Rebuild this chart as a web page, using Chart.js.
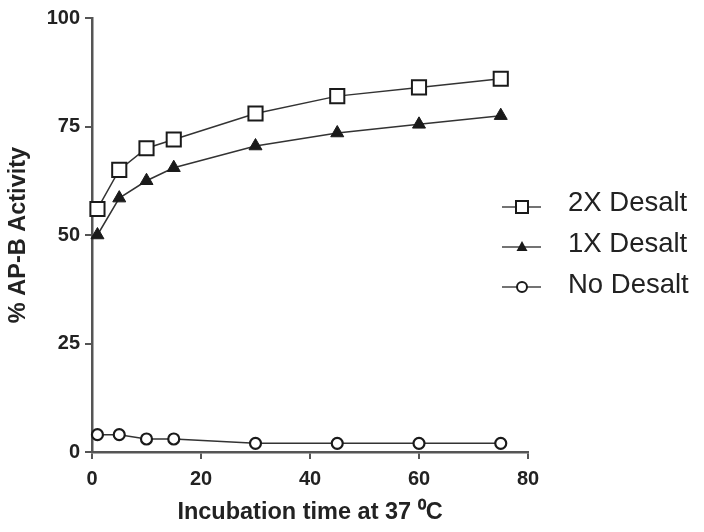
<!DOCTYPE html>
<html>
<head>
<meta charset="utf-8">
<script src="https://cdn.jsdelivr.net/npm/chart.js@4.4.1/dist/chart.umd.min.js"></script>
<style>
  html, body { margin: 0; padding: 0; background: #fff; }
  #wrap { width: 704px; height: 532px; }
</style>
</head>
<body>
<div id="wrap"><canvas id="apbChart" width="704" height="532"></canvas></div>
<script>
// incubation times (min) and % AP-B activity
var times = [1, 5, 10, 15, 30, 45, 60, 75];
var desalt2x = [56, 65, 70, 72, 78, 82, 84, 86];
var desalt1x = [50, 58.5, 62.5, 65.5, 70.5, 73.5, 75.5, 77.5];
var noDesalt = [4, 4, 3, 3, 2, 2, 2, 2];
var seriesNames = ['2X Desalt', '1X Desalt', 'No Desalt'];

function toPoints(ys) {
    return times.map(function (t, i) { return { x: t, y: ys[i] }; });
}

var ink = '#1a1a1a';
var axisColor = '#555';

// legend drawn to the right, overlapping the plot's right edge like the original
var sideLegend = {
    id: 'sideLegend',
    afterDraw: function (chart) {
        var c = chart.ctx;
        var rowsY = [207, 247, 287];
        chart.data.datasets.forEach(function (ds, i) {
            var y = rowsY[i];
            c.save();
            c.strokeStyle = '#444';
            c.lineWidth = 1.5;
            c.beginPath();
            c.moveTo(502, y);
            c.lineTo(541, y);
            c.stroke();
            c.lineWidth = 2;
            c.strokeStyle = ink;
            c.beginPath();
            if (ds.pointStyle === 'rect') {
                c.fillStyle = '#fff';
                c.rect(516, y - 6, 12, 12);
                c.fill();
                c.stroke();
            } else if (ds.pointStyle === 'triangle') {
                c.fillStyle = ink;
                c.moveTo(522, y - 6);
                c.lineTo(527.5, y + 4);
                c.lineTo(516.5, y + 4);
                c.closePath();
                c.fill();
            } else {
                c.fillStyle = '#fff';
                c.arc(522, y, 5, 0, Math.PI * 2);
                c.fill();
                c.stroke();
            }
            c.fillStyle = '#222';
            c.font = '27.5px "Liberation Sans", Arial, sans-serif';
            c.textBaseline = 'middle';
            c.textAlign = 'left';
            c.fillText(ds.label, 568, y - 4 + i * 1);
            c.restore();
        });
    }
};

const ctx = document.getElementById('apbChart').getContext('2d');
const apbChart = new Chart(ctx, {
    type: 'line',
    data: {
        datasets: [{
            label: seriesNames[0],
            data: toPoints(desalt2x),
            pointStyle: 'rect',
            pointRadius: 10,
            pointBorderWidth: 2,
            pointBackgroundColor: '#fff',
            pointBorderColor: ink,
            borderColor: '#333',
            borderWidth: 1.5
        }, {
            label: seriesNames[1],
            data: toPoints(desalt1x),
            pointStyle: 'triangle',
            pointRadius: 7.5,
            pointBorderWidth: 1,
            pointBackgroundColor: ink,
            pointBorderColor: ink,
            borderColor: '#333',
            borderWidth: 1.5
        }, {
            label: seriesNames[2],
            data: toPoints(noDesalt),
            pointStyle: 'circle',
            pointRadius: 5.5,
            pointBorderWidth: 2.2,
            pointBackgroundColor: '#fff',
            pointBorderColor: ink,
            borderColor: '#333',
            borderWidth: 1.5
        }]
    },
    options: {
        responsive: false,
        animation: false,
        devicePixelRatio: 1,
        clip: false,
        layout: {
            padding: { left: 0, right: 176, top: 18, bottom: 0 }
        },
        plugins: {
            legend: { display: false },
            tooltip: { enabled: false }
        },
        elements: { line: { tension: 0 } },
        scales: {
            x: {
                type: 'linear',
                min: 0,
                max: 80,
                afterFit: function (s) { s.height = 80; },
                ticks: {
                    stepSize: 20,
                    color: '#222',
                    padding: 8,
                    maxRotation: 0,
                    font: { family: '"Liberation Sans", Arial, sans-serif', size: 20, weight: 'bold' }
                },
                grid: { drawOnChartArea: false, drawTicks: true, tickLength: 7, color: axisColor, lineWidth: 2 },
                border: { color: axisColor, width: 2.5 },
                title: {
                    display: true,
                    text: 'Incubation time at 37 \u2070C',
                    color: '#222',
                    padding: { top: 0, bottom: 5 },
                    font: { family: '"Liberation Sans", Arial, sans-serif', size: 23.5, weight: 'bold' }
                }
            },
            y: {
                min: 0,
                max: 100,
                afterFit: function (s) { s.width = 92; },
                ticks: {
                    stepSize: 25,
                    color: '#222',
                    padding: 5,
                    font: { family: '"Liberation Sans", Arial, sans-serif', size: 20, weight: 'bold' }
                },
                grid: { drawOnChartArea: false, drawTicks: true, tickLength: 7, color: axisColor, lineWidth: 2 },
                border: { color: axisColor, width: 2.5 },
                title: {
                    display: true,
                    text: '% AP-B Activity',
                    color: '#222',
                    padding: { top: 4, bottom: 0 },
                    font: { family: '"Liberation Sans", Arial, sans-serif', size: 23.5, weight: 'bold' }
                }
            }
        }
    },
    plugins: [sideLegend]
});
</script>
</body>
</html>
